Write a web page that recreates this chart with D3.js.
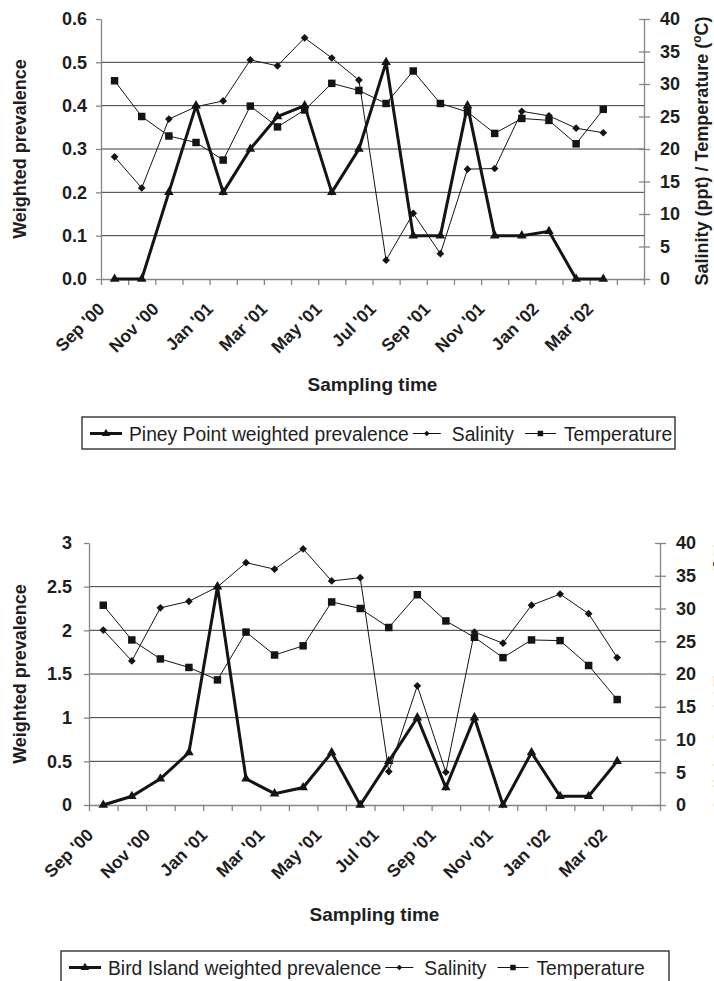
<!DOCTYPE html>
<html>
<head>
<meta charset="utf-8">
<script src="https://cdnjs.cloudflare.com/ajax/libs/d3/7.8.5/d3.min.js"></script>
<style>
  body { margin: 0; background: #fff; }
  svg { display: block; font-family: "Liberation Sans", Arial, Helvetica, sans-serif; }
</style>
</head>
<body>
<svg width="714" height="981"></svg>
<script>
// monthly categories, labels shown on every other one
var months = ["Sep '00", "Oct '00", "Nov '00", "Dec '00", "Jan '01", "Feb '01", "Mar '01", "Apr '01",
  "May '01", "Jun '01", "Jul '01", "Aug '01", "Sep '01", "Oct '01", "Nov '01", "Dec '01",
  "Jan '02", "Feb '02", "Mar '02", "Apr '02"];

// Piney Point
var pineyPrevalence = [0, 0, 0.2, 0.4, 0.2, 0.3, 0.375, 0.4, 0.2, 0.3, 0.5, 0.1, 0.1, 0.4, 0.1, 0.1, 0.11, 0, 0];
var pineySalinity = [18.8, 14.0, 24.6, 26.5, 27.4, 33.7, 32.8, 37.1, 34.0, 30.6, 2.9, 10.1, 3.9, 16.9, 17.0, 25.8, 25.1, 23.2, 22.5];
var pineyTemperature = [30.5, 25.0, 22.0, 21.0, 18.3, 26.6, 23.4, 26.0, 30.1, 29.0, 27.0, 32.0, 27.0, 25.7, 22.4, 24.7, 24.4, 20.8, 26.1];

// Bird Island
var birdPrevalence = [0, 0.1, 0.3, 0.6, 2.5, 0.3, 0.13, 0.2, 0.6, 0, 0.5, 1.0, 0.2, 1.0, 0, 0.6, 0.1, 0.1, 0.5];
var birdSalinity = [26.7, 22.0, 30.1, 31.1, 33.3, 37.0, 36.0, 39.1, 34.2, 34.7, 5.1, 18.2, 5.0, 26.4, 24.7, 30.5, 32.2, 29.2, 22.5];
var birdTemperature = [30.5, 25.2, 22.3, 21.0, 19.1, 26.4, 22.9, 24.3, 31.0, 30.0, 27.1, 32.1, 28.1, 25.6, 22.5, 25.2, 25.1, 21.3, 16.1];

var pineyLeftTicks = [0, 0.1, 0.2, 0.3, 0.4, 0.5, 0.6];
var birdLeftTicks = [0, 0.5, 1, 1.5, 2, 2.5, 3];
var rightTicks = [0, 5, 10, 15, 20, 25, 30, 35, 40];

var svg = d3.select('svg');
var ink = '#141414';
var axisGrey = '#858585';

function drawPanel(c) {
    var g = svg.append('g');

    var x = d3.scaleBand().domain(months).range([c.x0, c.x1]);
    var xTicks = d3.scaleLinear().domain([0, months.length]).range([c.x0, c.x1]);
    var yL = d3.scaleLinear().domain([0, c.leftMax]).range([c.yBot, c.yTop]);
    var yR = d3.scaleLinear().domain([0, 40]).range([c.yBot, c.yTop]);
    var cx = function (d, i) { return x(months[i]) + x.bandwidth() / 2; };

    // horizontal gridlines from the left axis
    g.selectAll('.grid')
        .data(c.leftTicks.filter(v => v > 0 && v < c.leftMax))
        .enter()
        .append('line')
        .attr('x1', c.x0)
        .attr('x2', c.x1)
        .attr('y1', d => yL(d))
        .attr('y2', d => yL(d))
        .attr('stroke', '#3a3a3a')
        .attr('stroke-width', 1);

    var left = g.append('g')
        .attr('transform', `translate(${c.x0},0)`)
        .call(d3.axisLeft(yL).tickValues(c.leftTicks).tickFormat(c.leftFormat)
            .tickSize(5).tickSizeOuter(0).tickPadding(c.leftPad));

    var right = g.append('g')
        .attr('transform', `translate(${c.x1},0)`)
        .call(d3.axisRight(yR).tickValues(rightTicks).tickSize(6).tickSizeOuter(0).tickPadding(10));
    right.selectAll('.tick line').attr('x1', -5);

    var bottom = g.append('g')
        .attr('transform', `translate(0,${c.yBot})`)
        .call(d3.axisBottom(xTicks).ticks(months.length).tickFormat(() => '').tickSize(6).tickSizeOuter(0));
    bottom.selectAll('text').remove();

    [left, right, bottom].forEach(function (a) {
        a.selectAll('path, line').attr('stroke', axisGrey).attr('stroke-width', 1.3);
        a.selectAll('text')
            .attr('fill', '#1e1e1e')
            .style('font-size', '18px')
            .style('font-weight', 'bold');
    });

    // rotated month labels
    g.selectAll('.xlab')
        .data(months.filter((d, i) => i % 2 === 0))
        .enter()
        .append('text')
        .attr('transform', d => `translate(${x(d) + x.bandwidth() / 2 - 9},${c.yBot + 31}) rotate(-45)`)
        .attr('text-anchor', 'end')
        .attr('fill', '#1e1e1e')
        .style('font-size', '17.5px')
        .style('font-weight', 'bold')
        .text(d => d);

    // axis titles
    g.append('text')
        .attr('x', (c.x0 + c.x1) / 2)
        .attr('y', c.xTitleY)
        .attr('text-anchor', 'middle')
        .attr('fill', '#1e1e1e')
        .style('font-size', '19px')
        .style('font-weight', 'bold')
        .text('Sampling time');

    g.append('text')
        .attr('transform', `translate(20,${(c.yTop + c.yBot) / 2}) rotate(-90)`)
        .attr('text-anchor', 'middle')
        .attr('dy', '0.35em')
        .attr('fill', '#1e1e1e')
        .style('font-size', '18px')
        .style('font-weight', 'bold')
        .text('Weighted prevalence');

    var rt = g.append('text')
        .attr('transform', `translate(${c.x1 + c.rightTitleOffset},${(c.yTop + c.yBot) / 2 + 2}) rotate(-90)`)
        .attr('text-anchor', 'middle')
        .attr('dy', '0.35em')
        .attr('fill', '#1e1e1e')
        .style('font-size', '18px')
        .style('font-weight', 'bold');
    rt.append('tspan').text('Salinity (ppt) / Temperature (');
    rt.append('tspan').attr('dy', -7).style('font-size', '12px').text('o');
    rt.append('tspan').attr('dy', 7).text('C)');

    // series
    var line = function (scale) {
        return d3.line().x(cx).y(d => scale(d));
    };

    g.append('path')
        .datum(c.prevalence)
        .attr('d', line(yL))
        .attr('fill', 'none')
        .attr('stroke', ink)
        .attr('stroke-width', 3)
        .attr('stroke-linejoin', 'miter');

    g.selectAll('.tri')
        .data(c.prevalence)
        .enter()
        .append('path')
        .attr('d', d3.symbol().type(d3.symbolTriangle).size(40))
        .attr('transform', (d, i) => `translate(${cx(d, i)},${yL(d)})`)
        .attr('fill', ink);

    g.append('path')
        .datum(c.salinity)
        .attr('d', line(yR))
        .attr('fill', 'none')
        .attr('stroke', ink)
        .attr('stroke-width', 1);

    g.selectAll('.dia')
        .data(c.salinity)
        .enter()
        .append('path')
        .attr('d', d3.symbol().type(d3.symbolSquare).size(30))
        .attr('transform', (d, i) => `translate(${cx(d, i)},${yR(d)}) rotate(45)`)
        .attr('fill', ink);

    g.append('path')
        .datum(c.temperature)
        .attr('d', line(yR))
        .attr('fill', 'none')
        .attr('stroke', ink)
        .attr('stroke-width', 1);

    g.selectAll('.sq')
        .data(c.temperature)
        .enter()
        .append('path')
        .attr('d', d3.symbol().type(d3.symbolSquare).size(56))
        .attr('transform', (d, i) => `translate(${cx(d, i)},${yR(d)})`)
        .attr('fill', ink);

    // legend
    var lb = c.legend;
    var lg = g.append('g');
    lg.append('rect')
        .attr('x', lb.x)
        .attr('y', lb.y)
        .attr('width', lb.w)
        .attr('height', 32)
        .attr('fill', 'none')
        .attr('stroke', '#333')
        .attr('stroke-width', 1.4);

    var items = [
        {label: c.name + ' weighted prevalence', stroke: 3, type: d3.symbolTriangle, size: 30, rot: 0, pre: 8, len: 32, gap: 7},
        {label: 'Salinity', stroke: 1, type: d3.symbolSquare, size: 16, rot: 45, pre: 4, len: 28, gap: 11},
        {label: 'Temperature', stroke: 1, type: d3.symbolSquare, size: 30, rot: 0, pre: 11, len: 31, gap: 8}
    ];
    var lx = lb.x;
    var symY = lb.y + 16.5;
    items.forEach(function (it) {
        lx += it.pre;
        lg.append('line')
            .attr('x1', lx).attr('x2', lx + it.len)
            .attr('y1', symY).attr('y2', symY)
            .attr('stroke', ink)
            .attr('stroke-width', it.stroke);
        lg.append('path')
            .attr('d', d3.symbol().type(it.type).size(it.size))
            .attr('transform', `translate(${lx + it.len / 2},${symY}) rotate(${it.rot})`)
            .attr('fill', ink);
        lx += it.len + it.gap;
        var t = lg.append('text')
            .attr('x', lx)
            .attr('y', lb.y + 23.5)
            .attr('fill', '#1e1e1e')
            .style('font-size', '19.3px')
            .text(it.label);
        lx += t.node().getComputedTextLength();
    });
}

drawPanel({
    name: 'Piney Point',
    x0: 101, x1: 644, yTop: 19, yBot: 279,
    leftMax: 0.6, leftTicks: pineyLeftTicks, leftFormat: d3.format('.1f'), leftPad: 9,
    prevalence: pineyPrevalence, salinity: pineySalinity, temperature: pineyTemperature,
    xTitleY: 391, rightTitleOffset: 58,
    legend: {x: 82, y: 417, w: 593}
});

drawPanel({
    name: 'Bird Island',
    x0: 89, x1: 660, yTop: 543, yBot: 805,
    leftMax: 3, leftTicks: birdLeftTicks, leftFormat: d => String(d), leftPad: 12,
    prevalence: birdPrevalence, salinity: birdSalinity, temperature: birdTemperature,
    xTitleY: 921, rightTitleOffset: 61,
    legend: {x: 61, y: 951, w: 608}
});
</script>
</body>
</html>
